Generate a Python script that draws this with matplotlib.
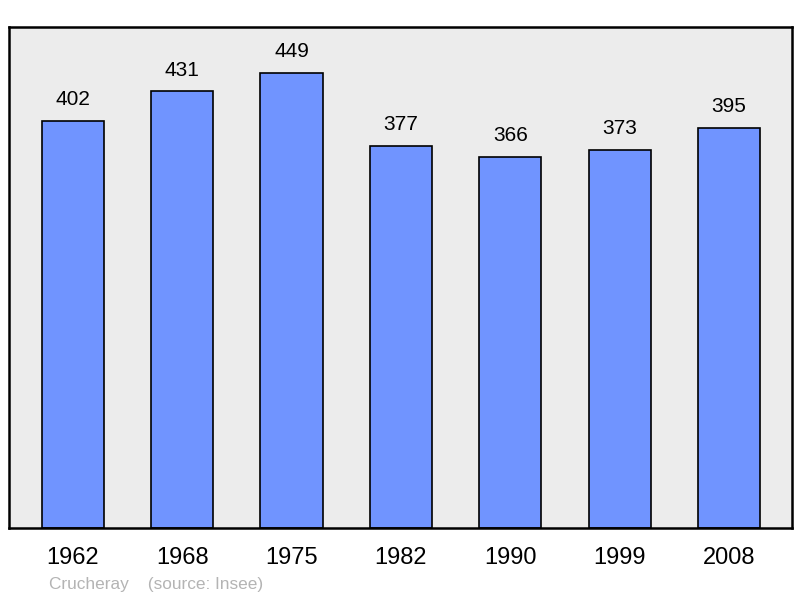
import matplotlib
matplotlib.use("Agg")
import matplotlib.pyplot as plt

plt.rcParams['font.family'] = ['Liberation Sans', 'DejaVu Sans']

# population data
years = ["1962", "1968", "1975", "1982", "1990", "1999", "2008"]
population = [402, 431, 449, 377, 366, 373, 395]

fig = plt.figure(figsize=(8, 5.98), dpi=100)
ax = fig.add_axes([9 / 800, 1 - 528 / 598, 783 / 800, 501 / 598])
ax.set_facecolor('#ececec')

xs = range(len(years))
ax.bar(xs, population, width=0.57, color='#7094ff', edgecolor='black', linewidth=1.2, zorder=2)

for x, v in zip(xs, population):
    ax.annotate(str(v), (x, v), xytext=(0, 8.5), textcoords='offset points',
                ha='center', va='bottom', fontsize=15)

ax.set_xlim(-0.585, 6.576)
ax.set_ylim(0, 494.6)
ax.set_yticks([])
ax.set_xticks(list(xs))
ax.set_xticklabels(years, fontsize=17)
ax.tick_params(axis='x', length=0, pad=13.5)
for s in ax.spines.values():
    s.set_linewidth(1.8)

fig.text(49 / 800, 1 - 584 / 598, "Crucheray    (source: Insee)", color='#b4b4b4',
         fontsize=12.4, ha='left', va='center')

fig.savefig("out.png", dpi=100)
